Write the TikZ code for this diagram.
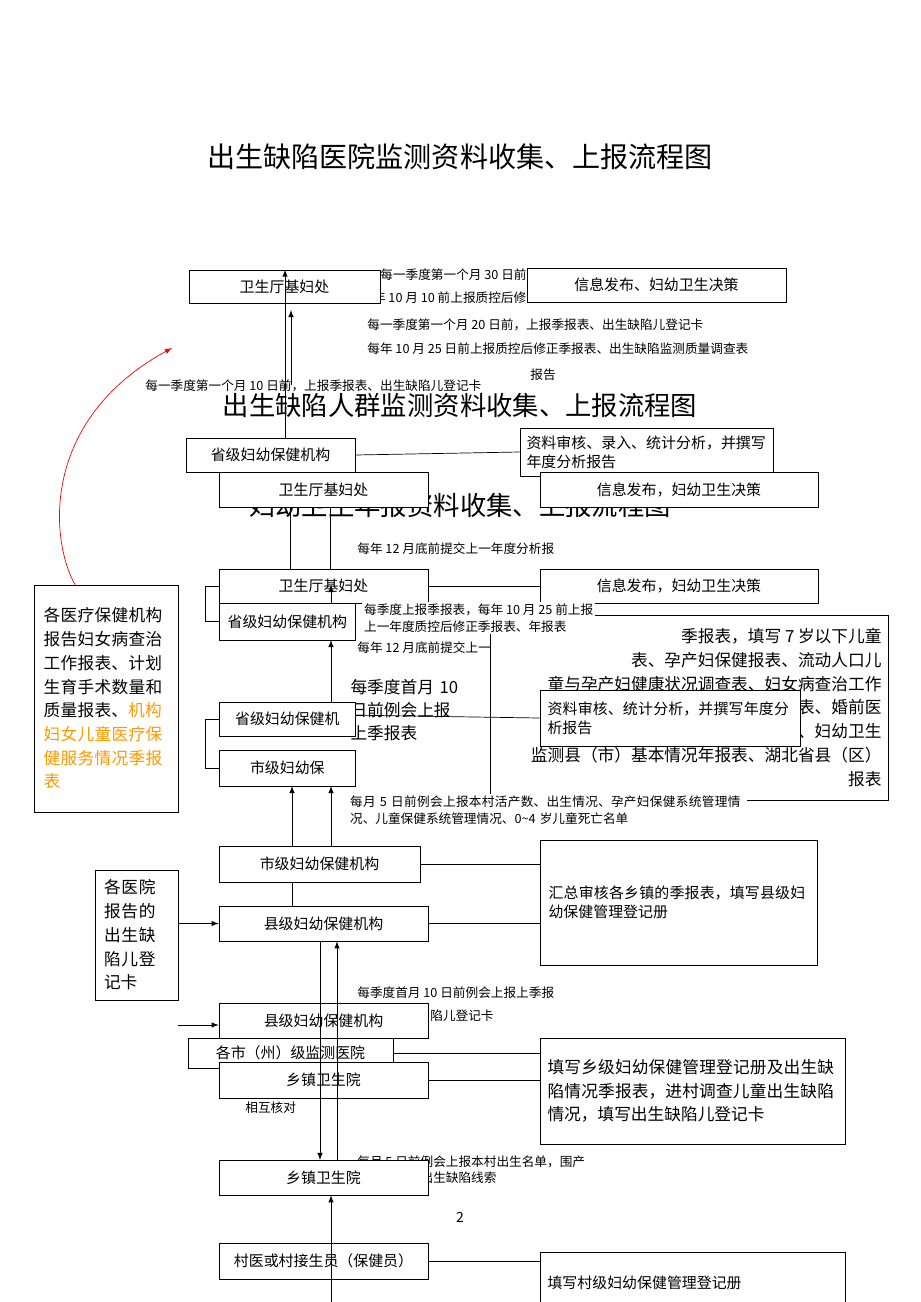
\documentclass[tikz,border=0pt]{standalone}
\usepackage{fontspec}
\setmainfont{Noto Sans CJK SC}
\XeTeXlinebreaklocale "zh"
\XeTeXlinebreakskip=0pt plus 1pt
\usetikzlibrary{arrows,positioning}
\definecolor{noteorange}{RGB}{255,153,0}
\tikzset{
  box/.style={draw, fill=white, inner sep=1pt, font=\fontsize{8.5}{11}\selectfont},
  note/.style={anchor=west, inner sep=0pt, font=\fontsize{7.2}{9.5}\selectfont},
  cover/.style={note, fill=white, align=left, inner sep=1pt}
}
\begin{document}
\begin{tikzpicture}[x=0.02cm, y=-0.02cm, >=latex]
  \useasboundingbox (0,0) rectangle (920,1302);
  \node[font=\fontsize{16}{18}\selectfont] (title) at (460,157) {出生缺陷医院监测资料收集、上报流程图};
  % ghost titles
  \node[font=\fontsize{15}{18}\selectfont] (ghostA) at (460,405) {出生缺陷人群监测资料收集、上报流程图};
  \node[font=\fontsize{15}{18}\selectfont] (ghostB) at (460,505) {妇幼卫生年报资料收集、上报流程图};
  % notes
  \node[note] (n30) at (380,275) {每一季度第一个月 30 日前，上报季报表};
  \node[note] (n10q) at (360,298) {每年 10 月 10 前上报质控后修正季报表};
  \node[note] (n20) at (367,325) {每一季度第一个月 20 日前，上报季报表、出生缺陷儿登记卡};
  \node[note] (n25) at (367,349) {每年 10 月 25 日前上报质控后修正季报表、出生缺陷监测质量调查表};
  \node[note] (nrep) at (530,375) {报告};
  \node[note] (n10) at (145,386) {每一季度第一个月 10 日前，上报季报表、出生缺陷儿登记卡};
  \node[note] (n12) at (357,549) {每年 12 月底前提交上一年度分析报};
  \node[note] (n12b) at (357,648) {每年 12 月底前提交上一年度分析报};
  % upper chain
  \node[box, minimum width=3.82cm, minimum height=0.66cm] (wsA) at (284.5,286.5) {卫生厅基妇处};
  \node[box, minimum width=5.18cm, minimum height=0.68cm] (infoA) at (656.5,285) {信息发布、妇幼卫生决策};
  \node[box, minimum width=3.38cm, minimum height=0.68cm] (provA) at (270.5,455) {省级妇幼保健机构};
  \node[box, minimum width=5.06cm, minimum height=0.96cm, text width=4.8cm, align=left] (anaA) at (646.5,452) {资料审核、录入、统计分析，并撰写年度分析报告};
  \draw (provA.east) -- (anaA.west);
  \node[box, minimum width=4.18cm, minimum height=0.70cm] (wsB) at (323.5,489.5) {卫生厅基妇处};
  \node[box, minimum width=5.56cm, minimum height=0.70cm] (infoB) at (679,489.5) {信息发布，妇幼卫生决策};
  \draw[->] (provA.north -| 285,0) -- (wsA.north -| 285,0);
  \coordinate (upA) at (291,385);
  \draw[->] (upA) -- (291,310);
  \draw (290,569) -- (290,507);
  \draw (330,569) -- (330,507);
  % middle chain
  \node[box, minimum width=4.18cm, minimum height=0.68cm] (wsC) at (323.5,586) {卫生厅基妇处};
  \node[box, minimum width=5.56cm, minimum height=0.68cm] (infoC) at (679,586) {信息发布，妇幼卫生决策};
  \draw (wsC.east) -- (infoC.west);
  \node[box, minimum width=2.72cm, minimum height=0.74cm, anchor=west] (provB) at (219,621.5) {省级妇幼保健机构};
  \draw (provB.west) -- ++(-14,0) |- (wsC.west);
  \node[box, minimum width=7.96cm, minimum height=3.7cm, text width=7.7cm, align=flush right,
        font=\fontsize{9.5}{13.5}\selectfont] (bigBox) at (689,707.5)
        {季报表，填写 7 岁以下儿童\\表、孕产妇保健报表、流动人口儿\\童与孕产妇健康状况调查表、妇女病查治工作\\报表、婚前医\\学检、妇幼卫生\\监测县（市）基本情况年报表、湖北省县（区）\\报表};
  \node[cover] (nq) at (362,618) {每季度上报季报表，每年 10 月 25 前上报\\上一年度质控后修正季报表、年报表};
  \node[box, minimum width=2.9cm, minimum height=1.4cm, text width=2.7cm, align=left,
        font=\fontsize{9.5}{13}\selectfont, draw=none] (monthBox) at (418,710) {每季度首月 10\\日前例会上报\\上季报表};
  \node[box, minimum width=5.2cm, minimum height=1.12cm, text width=4.9cm, align=left] (anaB) at (670,718) {资料审核、统计分析，并撰写年度分析报告};
  \draw (monthBox.west) ++(0,5) -- (anaB.west);
  \node[box, minimum width=2.72cm, minimum height=0.68cm, anchor=west] (provC) at (219,719) {省级妇幼保健机};
  \node[box, minimum width=2.72cm, minimum height=0.72cm, anchor=west] (cityA) at (219,768) {市级妇幼保};
  \draw (cityA.west) -- ++(-14,0) |- (provC.west);
  \draw[->] (331,702) -- (331,640);
  \draw[->] (331,603) -- (331,585);
  \draw[->] (331,846) -- (331,786);
  \draw[->] (292,846) -- (292,786);
  \node[cover, text width=7.9cm] (nm5) at (348,810) {每月 5 日前例会上报本村活产数、出生情况、孕产妇保健系统管理情况、儿童保健系统管理情况、0\textasciitilde 4 岁儿童死亡名单};
  % left note boxes
  \node[box, minimum width=2.88cm, minimum height=4.54cm, text width=2.5cm, align=left,
        font=\fontsize{9.5}{13.5}\selectfont] (leftA) at (106,698.5)
        {各医疗保健机构报告妇女病查治工作报表、计划生育手术数量和质量报表、\textcolor{noteorange}{机构妇女儿童医疗保健服务情况季报表}};
  \draw[red, ->] (leftA.north -| 75,0) .. controls (50,540) and (40,420) .. (172,348);
  % lower chain
  \node[box, minimum width=5.54cm, minimum height=2.5cm, text width=5.2cm, align=left] (sumBox) at (678.5,902.5) {汇总审核各乡镇的季报表，填写县级妇幼保健管理登记册};
  \node[box, minimum width=4.02cm, minimum height=0.72cm] (cityB) at (319.5,864) {市级妇幼保健机构};
  \draw (cityB.east) -- (sumBox.west |- cityB.east);
  \node[box, minimum width=4.18cm, minimum height=0.70cm] (countyA) at (323.5,923.5) {县级妇幼保健机构};
  \draw (countyA.east) -- (sumBox.west |- countyA.east);
  \draw (cityB.south -| 292,0) -- (countyA.north -| 292,0);
  \node[box, minimum width=1.66cm, minimum height=2.6cm, text width=1.3cm, align=left,
        font=\fontsize{9.5}{13.5}\selectfont] (leftB) at (136.5,935) {各医院报告的出生缺陷儿登记卡};
  \draw[->] (leftB.east |- countyA.west) -- (countyA.west);
  \node[note] (nq10) at (357,993) {每季度首月 10 日前例会上报上季报};
  \node[note] (ncard) at (430,1016) {陷儿登记卡};
  \node[box, minimum width=6.1cm, minimum height=2.12cm, text width=5.8cm, align=left,
        font=\fontsize{9.5}{13.5}\selectfont] (townFill) at (692.5,1091)
        {填写乡级妇幼保健管理登记册及出生缺陷情况季报表，进村调查儿童出生缺陷情况，填写出生缺陷儿登记卡};
  \node[box, minimum width=4.18cm, minimum height=0.70cm] (countyB) at (323.5,1020.5) {县级妇幼保健机构};
  \coordinate (inB) at (178,1025);
  \draw[->] (inB) -- (countyB.west |- inB);
  \node[box, minimum width=4.1cm, minimum height=0.6cm] (hospital) at (290.5,1053) {各市（州）级监测医院};
  \node[box, minimum width=4.18cm, minimum height=0.72cm] (townA) at (323.5,1080) {乡镇卫生院};
  \draw (hospital.east) -- (townFill.west |- hospital.east);
  \draw (townA.east) -- (townFill.west |- townA.east);
  \node[note] (check) at (245,1108) {相互核对};
  \draw[->] (countyA.south -| 320,0) -- (320,1160);
  \draw[->] (337,1160) -- (countyA.south -| 337,0);
  \node[note] (nv5) at (357,1162) {每月 5 日前例会上报本村出生名单，围产};
  \node[note] (nv5b) at (357,1178) {求及时上报出生缺陷线索};
  \node[box, minimum width=4.18cm, minimum height=0.70cm] (townB) at (323.5,1177.5) {乡镇卫生院};
  \node[font=\fontsize{8}{10}\selectfont] (page) at (460,1217) {2};
  \node[box, minimum width=4.18cm, minimum height=0.72cm] (village) at (323.5,1261) {村医或村接生员（保健员）};
  \node[box, minimum width=6.1cm, minimum height=1.2cm, text width=5.8cm, align=left, anchor=north] (villFill) at (692.5,1252) {填写村级妇幼保健管理登记册\\[1.2em]};
  \draw (village.east) -- (villFill.west |- village.east);
  \coordinate (bot) at (331,1302);
  \draw[->] (bot) -- (townB.south -| bot);
\end{tikzpicture}
\end{document}
